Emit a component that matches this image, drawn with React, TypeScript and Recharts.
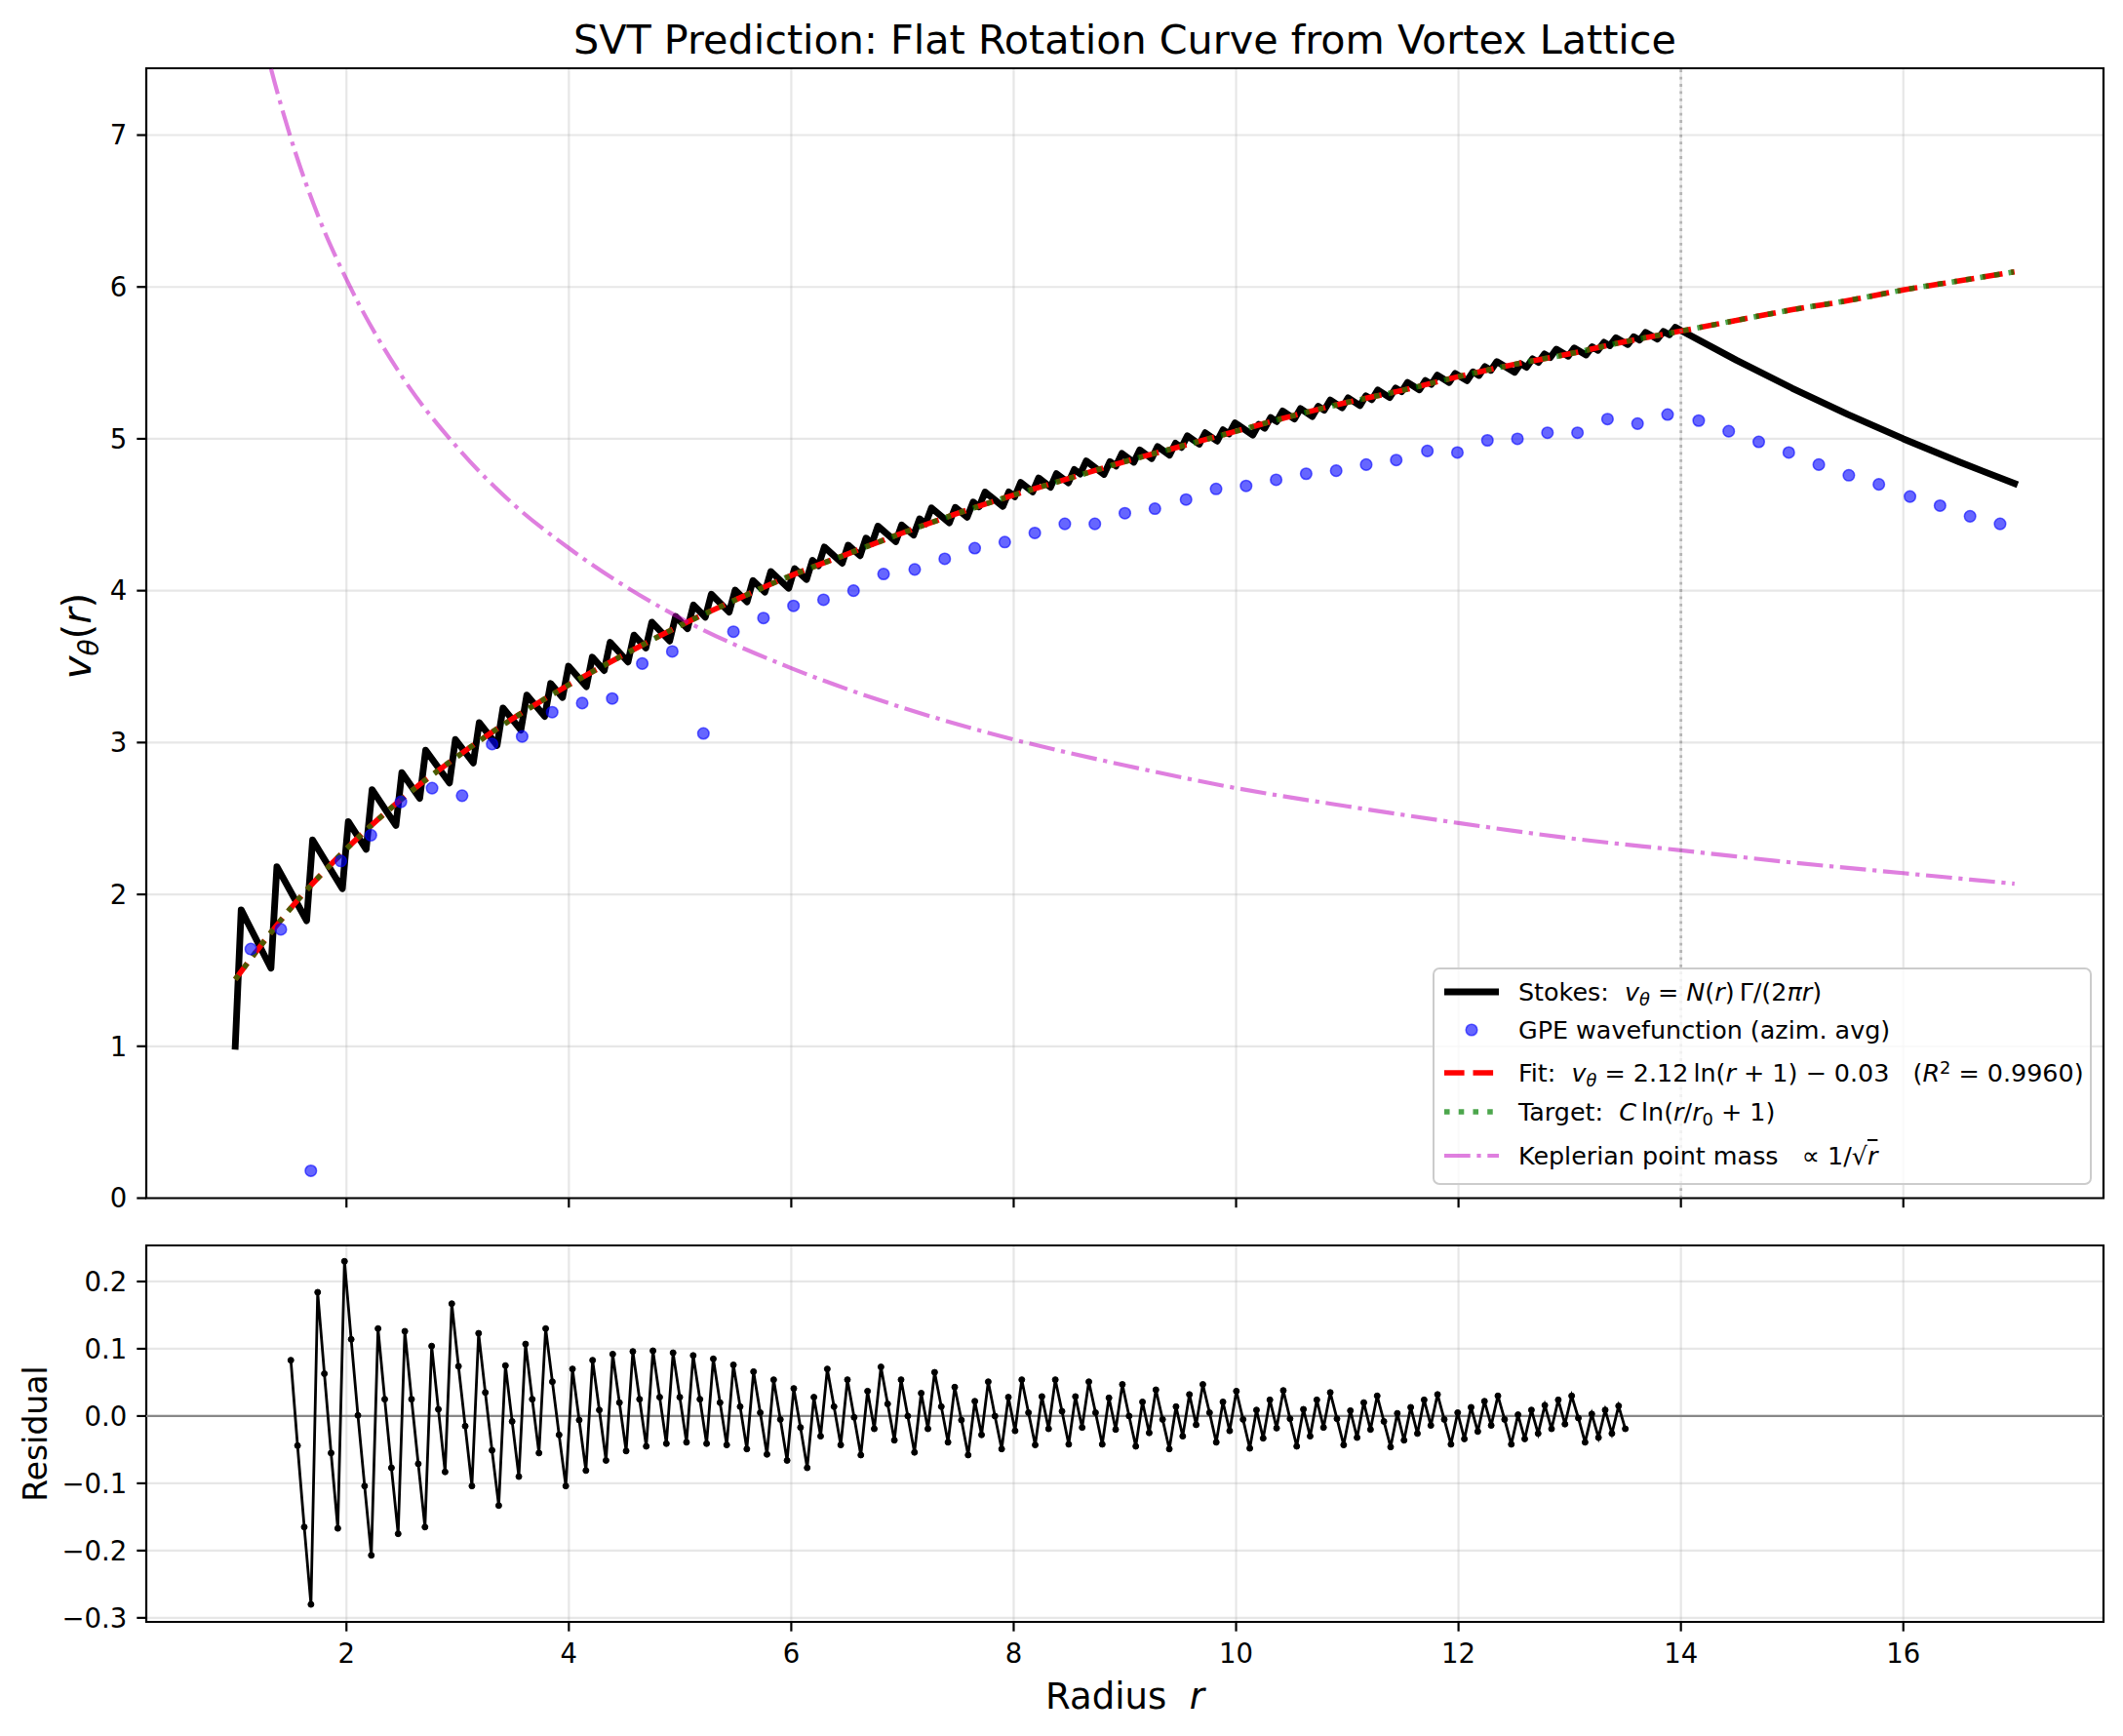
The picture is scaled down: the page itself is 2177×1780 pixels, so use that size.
import type { ReactNode } from "react";
import {
  CartesianGrid,
  Line,
  LineChart,
  ReferenceArea,
  ReferenceLine,
  XAxis,
  YAxis,
} from "recharts";

const FONT = "'DejaVu Sans', 'Liberation Sans', sans-serif";

// Stokes curve vertices [r, v]: every vortex shell crossed adds one jump
const stokesVertices: [number, number][] = [
  [1.0, 1.0], [1.0535, 1.8984], [1.3211, 1.5139], [1.3746, 2.1825],
  [1.6421, 1.8269], [1.6957, 2.3589], [1.9632, 2.0375], [2.0167, 2.4793],
  [2.1773, 2.2964], [2.2308, 2.6896], [2.4448, 2.4542], [2.4983, 2.8019],
  [2.6589, 2.6327], [2.7124, 2.9494], [2.9264, 2.7337], [2.9799, 3.0202],
  [3.1405, 2.8658], [3.194, 3.1309], [3.3545, 2.9811], [3.408, 3.2277],
  [3.5686, 3.0824], [3.6221, 3.313], [3.7826, 3.1724], [3.8361, 3.3889],
  [3.9432, 3.2968], [3.9967, 3.5029], [4.1572, 3.3677], [4.2107, 3.5624],
  [4.3177, 3.4741], [4.3712, 3.6603], [4.5318, 3.5306], [4.5853, 3.7075],
  [4.6923, 3.623], [4.7458, 3.7928], [4.9064, 3.6687], [4.9599, 3.8307],
  [5.0669, 3.7498], [5.1204, 3.9059], [5.2274, 3.826], [5.2809, 3.9766],
  [5.4415, 3.8592], [5.495, 4.0036], [5.602, 3.9272], [5.6555, 4.0668],
  [5.7625, 3.9913], [5.8161, 4.1265], [5.9766, 4.0157], [6.0301, 4.1459],
  [6.1371, 4.0736], [6.1906, 4.1999], [6.2441, 4.1639], [6.2977, 4.2873],
  [6.4582, 4.1807], [6.5117, 4.3], [6.6187, 4.2304], [6.6722, 4.3464],
  [6.7258, 4.3118], [6.7793, 4.4252], [6.9398, 4.3229], [6.9933, 4.4328],
  [7.1003, 4.366], [7.1538, 4.4732], [7.2074, 4.4399], [7.2609, 4.5449],
  [7.4214, 4.4466], [7.4749, 4.5486], [7.5819, 4.4844], [7.6355, 4.5838],
  [7.689, 4.552], [7.7425, 4.6496], [7.903, 4.5552], [7.9565, 4.6503],
  [8.01, 4.6192], [8.0635, 4.7126], [8.1706, 4.6508], [8.2241, 4.7421],
  [8.3311, 4.6812], [8.3846, 4.7707], [8.4916, 4.7105], [8.5452, 4.798],
  [8.5987, 4.7682], [8.6522, 4.8543], [8.8127, 4.7658], [8.8662, 4.8499],
  [8.9197, 4.8208], [8.9732, 4.9035], [9.0803, 4.8457], [9.1338, 4.9268],
  [9.2408, 4.8697], [9.2943, 4.9493], [9.4013, 4.8929], [9.4548, 4.971],
  [9.5084, 4.943], [9.5619, 5.0199], [9.6689, 4.9644], [9.7224, 5.0399],
  [9.8294, 4.985], [9.8829, 5.0592], [9.9365, 5.032], [9.99, 5.1051],
  [10.1505, 5.0244], [10.204, 5.096], [10.2575, 5.0695], [10.311, 5.1401],
  [10.3645, 5.1136], [10.4181, 5.1833], [10.5251, 5.1306], [10.5786, 5.1992],
  [10.6856, 5.1471], [10.7391, 5.2146], [10.7926, 5.1887], [10.8462, 5.2553],
  [10.9532, 5.204], [11.0067, 5.2695], [11.1137, 5.2188], [11.1672, 5.2833],
  [11.2207, 5.2581], [11.2742, 5.3219], [11.3813, 5.2718], [11.4348, 5.3346],
  [11.4883, 5.3098], [11.5418, 5.3718], [11.6488, 5.3224], [11.7023, 5.3836],
  [11.7559, 5.359], [11.8094, 5.4194], [11.9164, 5.3708], [11.9699, 5.4303],
  [12.0769, 5.3822], [12.1304, 5.4409], [12.1839, 5.417], [12.2375, 5.475],
  [12.291, 5.4512], [12.3445, 5.5085], [12.505, 5.4378], [12.5585, 5.4943],
  [12.612, 5.471], [12.6656, 5.5268], [12.7191, 5.5035], [12.7726, 5.5588],
  [12.8261, 5.5356], [12.8796, 5.5902], [12.9866, 5.5442], [13.0401, 5.5981],
  [13.1472, 5.5525], [13.2007, 5.6058], [13.2542, 5.5831], [13.3077, 5.6358],
  [13.3612, 5.6133], [13.4147, 5.6654], [13.5217, 5.6206], [13.5753, 5.6721],
  [13.6288, 5.6498], [13.6823, 5.7008], [13.7893, 5.6565], [13.8428, 5.7069],
  [13.8963, 5.685], [13.9498, 5.7348], [14.0034, 5.7129], [14.5, 5.5172],
  [15.0, 5.3333], [15.5, 5.1613], [16.0, 5.0], [16.5, 4.8485], [17.0, 4.7059],
];

// GPE wavefunction, azimuthally averaged
const gpeR = [
  1.14, 1.41, 1.68, 1.95, 2.22, 2.49, 2.77, 3.04, 3.31, 3.58, 3.85, 4.12,
  4.39, 4.66, 4.93, 5.21, 5.48, 5.75, 6.02, 6.29, 6.56, 6.83, 7.11, 7.38,
  7.65, 7.92, 8.19, 8.46, 8.73, 9.0, 9.27, 9.55, 9.82, 10.09, 10.36, 10.63,
  10.9, 11.17, 11.44, 11.72, 11.99, 12.26, 12.53, 12.8, 13.07, 13.34, 13.61,
  13.88, 14.16, 14.43, 14.7, 14.97, 15.24, 15.51, 15.78, 16.06, 16.33, 16.6,
  16.87,
];
const gpeV = [
  1.64, 1.77, 0.18, 2.22, 2.39, 2.61, 2.7, 2.65, 2.99, 3.04, 3.2, 3.26, 3.29,
  3.52, 3.6, 3.06, 3.73, 3.82, 3.9, 3.94, 4.0, 4.11, 4.14, 4.21, 4.28, 4.32,
  4.38, 4.44, 4.44, 4.51, 4.54, 4.6, 4.67, 4.69, 4.73, 4.77, 4.79, 4.83, 4.86,
  4.92, 4.91, 4.99, 5.0, 5.04, 5.04, 5.13, 5.1, 5.16, 5.12, 5.05, 4.98, 4.91,
  4.83, 4.76, 4.7, 4.62, 4.56, 4.49, 4.44,
];

// log fit and target curve
const fitR = [
  1, 1.5, 2, 2.5, 3, 3.5, 4, 4.5, 5, 5.5, 6, 6.5, 7, 7.5, 8, 8.5, 9, 9.5, 10,
  10.5, 11, 11.5, 12, 12.5, 13, 13.5, 14, 14.5, 15, 15.5, 16, 16.5, 17,
];
const fitV = [
  1.44, 1.91, 2.3, 2.63, 2.91, 3.16, 3.38, 3.58, 3.77, 3.94, 4.1, 4.24, 4.38,
  4.51, 4.63, 4.74, 4.85, 4.95, 5.05, 5.15, 5.24, 5.32, 5.41, 5.49, 5.56, 5.64,
  5.71, 5.78, 5.85, 5.91, 5.98, 6.04, 6.1,
];
const targetV = [
  1.44, 1.91, 2.3, 2.63, 2.91, 3.16, 3.38, 3.58, 3.77, 3.94, 4.1, 4.24, 4.38,
  4.51, 4.63, 4.74, 4.85, 4.95, 5.05, 5.15, 5.24, 5.32, 5.41, 5.49, 5.56, 5.64,
  5.71, 5.78, 5.85, 5.91, 5.98, 6.04, 6.1,
];

// Keplerian point mass
const keplerR = [1, 1.25, 1.5, 1.75, 2, 2.5, 3, 3.5, 4, 5, 6, 7, 8, 9, 10, 11, 12, 13, 14, 15, 16, 17];
const keplerV = [
  8.55, 7.65, 6.98, 6.46, 6.05, 5.41, 4.94, 4.57, 4.28, 3.82, 3.49, 3.23, 3.02,
  2.85, 2.7, 2.58, 2.47, 2.37, 2.29, 2.21, 2.14, 2.07,
];

// residual (Stokes - fit), evenly sampled from r = 1.5 to r = 13.5
const RESIDUAL_START = 1.5;
const RESIDUAL_END = 13.5;
const residuals = [
  0.083, -0.044, -0.165, -0.28, 0.184, 0.063, -0.055, -0.167, 0.23, 0.114,
  0.001, -0.104, -0.207, 0.13, 0.025, -0.077, -0.175, 0.126, 0.025, -0.071,
  -0.165, 0.104, 0.01, -0.083, 0.167, 0.074, -0.015, -0.104, 0.123, 0.035,
  -0.051, -0.133, 0.075, -0.008, -0.09, 0.107, 0.025, -0.055, 0.13, 0.051,
  -0.028, -0.104, 0.07, -0.006, -0.081, 0.083, 0.009, -0.066, 0.092, 0.02,
  -0.052, 0.096, 0.025, -0.045, 0.097, 0.028, -0.041, 0.094, 0.028, -0.039,
  0.09, 0.025, -0.041, 0.085, 0.02, -0.043, 0.076, 0.014, -0.049, 0.066,
  0.005, -0.057, 0.054, -0.005, -0.066, 0.041, -0.017, -0.077, 0.028, -0.03,
  0.07, 0.014, -0.043, 0.054, -0.002, -0.058, 0.037, -0.019, 0.073, 0.018,
  -0.036, 0.054, 0.0, -0.054, 0.034, -0.019, 0.065, 0.014, -0.039, 0.043,
  -0.006, -0.058, 0.022, -0.028, 0.051, 0.0, -0.049, 0.028, -0.022, 0.054,
  0.005, -0.043, 0.029, -0.019, 0.054, 0.007, -0.042, 0.029, -0.017, 0.051,
  0.005, -0.042, 0.027, -0.02, 0.047, 0.0, -0.045, 0.021, -0.025, 0.039,
  -0.005, -0.049, 0.014, -0.03, 0.032, -0.013, 0.047, 0.005, -0.039, 0.021,
  -0.022, 0.037, -0.005, -0.048, 0.009, -0.033, 0.024, -0.018, 0.038, -0.004,
  -0.045, 0.01, -0.03, 0.024, -0.017, 0.035, -0.004, -0.043, 0.008, -0.032,
  0.02, -0.02, 0.03, -0.008, -0.046, 0.004, -0.036, 0.013, -0.026, 0.024,
  -0.014, 0.032, -0.005, -0.042, 0.005, -0.034, 0.013, -0.023, 0.022, -0.014,
  0.03, -0.005, -0.042, 0.002, -0.034, 0.009, -0.026, 0.016, -0.019, 0.024,
  -0.012, 0.03, -0.003, -0.039, 0.003, -0.032, 0.009, -0.026, 0.015, -0.019,
];

const radiusTicks = [2, 4, 6, 8, 10, 12, 14, 16];
const velocityTicks = [0, 1, 2, 3, 4, 5, 6, 7];
const residualTicks = [-0.3, -0.2, -0.1, 0, 0.1, 0.2];
const LATTICE_EDGE = 14;

const X_DOMAIN: [number, number] = [0.2, 17.8];
const V_DOMAIN: [number, number] = [0, 7.44];
const RES_DOMAIN: [number, number] = [-0.306, 0.2536];

const stokesData = stokesVertices.map(([r, v]) => ({ r, v }));
const gpeData = gpeR.map((r, i) => ({ r, v: gpeV[i] }));
const fitData = fitR.map((r, i) => ({ r, v: fitV[i] }));
const targetData = fitR.map((r, i) => ({ r, v: targetV[i] }));
const keplerData = keplerR.map((r, i) => ({ r, v: keplerV[i] }));
const residualData = residuals.map((v, i) => ({
  r: RESIDUAL_START + (i * (RESIDUAL_END - RESIDUAL_START)) / (residuals.length - 1),
  v,
}));

const tickStyle = { fontSize: 27.5, fill: "#000", fontFamily: FONT };
const tickLineStyle = { stroke: "#000", strokeWidth: 2.2 };
const gridProps = { stroke: "#b0b0b0", strokeOpacity: 0.3, strokeWidth: 2.2 };

const formatResidual = (v: number) =>
  (v < -1e-9 ? "\u2212" : "") + Math.abs(v).toFixed(1);

const I = ({ children }: { children: ReactNode }) => (
  <span style={{ fontStyle: "italic" }}>{children}</span>
);
const Sub = ({ children }: { children: ReactNode }) => (
  <span style={{ fontSize: "0.7em", position: "relative", top: "0.3em" }}>{children}</span>
);
const Sup = ({ children }: { children: ReactNode }) => (
  <span style={{ fontSize: "0.7em", position: "relative", top: "-0.45em" }}>{children}</span>
);

const legendRows: { key: string; cy: number; handle: ReactNode; label: ReactNode }[] = [
  {
    key: "stokes",
    cy: 23,
    handle: <line x1={2} x2={58} y1={20} y2={20} stroke="#000" strokeWidth={6.9} />,
    label: (
      <>
        {"Stokes:  "}
        <I>v</I>
        <Sub>
          <I>θ</I>
        </Sub>
        {" = "}
        <I>N</I>(<I>r</I>){"\u2009"}Γ/(2<I>π</I>
        <I>r</I>)
      </>
    ),
  },
  {
    key: "gpe",
    cy: 62,
    handle: (
      <circle cx={30} cy={20} r={5.8} fill="#0000ff" fillOpacity={0.6} stroke="#0000ff" strokeOpacity={0.6} strokeWidth={1.5} />
    ),
    label: <>GPE wavefunction (azim. avg)</>,
  },
  {
    key: "fit",
    cy: 106,
    handle: (
      <line x1={2} x2={58} y1={20} y2={20} stroke="#ff0000" strokeWidth={5.56} strokeDasharray="20.6 8.9" />
    ),
    label: (
      <>
        {"Fit:  "}
        <I>v</I>
        <Sub>
          <I>θ</I>
        </Sub>
        {" = 2.12\u2009ln("}
        <I>r</I>
        {" + 1) \u2212 0.03   ("}
        <I>R</I>
        <Sup>2</Sup>
        {" = 0.9960)"}
      </>
    ),
  },
  {
    key: "target",
    cy: 146,
    handle: (
      <line x1={2} x2={58} y1={20} y2={20} stroke="#008000" strokeOpacity={0.7} strokeWidth={5.56} strokeDasharray="5.56 9.17" />
    ),
    label: (
      <>
        {"Target:  "}
        <I>C</I>
        {"\u2009ln("}
        <I>r</I>/<I>r</I>
        <Sub>0</Sub>
        {" + 1)"}
      </>
    ),
  },
  {
    key: "kepler",
    cy: 191,
    handle: (
      <line x1={2} x2={58} y1={20} y2={20} stroke="#bf00bf" strokeOpacity={0.5} strokeWidth={4.17} strokeDasharray="26.7 6.7 4.2 6.7" />
    ),
    label: (
      <>
        {"Keplerian point mass   \u221d 1/\u221a"}
        <span style={{ textDecoration: "overline", textDecorationThickness: 2 }}>
          <I>r</I>
        </span>
      </>
    ),
  },
];

const LegendBox = () => (
  <div
    style={{
      position: "absolute",
      left: 1469,
      top: 992,
      width: 676,
      height: 223,
      boxSizing: "border-box",
      border: "2.2px solid #cccccc",
      borderRadius: 7,
      background: "rgba(255,255,255,0.8)",
      fontFamily: FONT,
    }}
  >
    {legendRows.map((row) => (
      <div key={row.key} style={{ position: "absolute", left: 0, top: row.cy - 20, height: 40, width: "100%" }}>
        <svg width={60} height={40} style={{ position: "absolute", left: 8, top: 0 }}>
          {row.handle}
        </svg>
        <div
          style={{
            position: "absolute",
            left: 86,
            top: 0,
            height: 40,
            lineHeight: "40px",
            fontSize: 25.4,
            whiteSpace: "pre",
            color: "#000",
          }}
        >
          {row.label}
        </div>
      </div>
    ))}
  </div>
);

export default function App() {
  return (
    <div
      style={{
        position: "absolute",
        left: 0,
        top: 0,
        width: 2177,
        height: 1780,
        background: "#fff",
        fontFamily: FONT,
        overflow: "hidden",
      }}
    >
      {/* rotation curve panel */}
      <div style={{ position: "absolute", left: 0, top: 0 }}>
        <LineChart width={2177} height={1260} margin={{ top: 70, right: 20, bottom: 20, left: 0 }}>
          <CartesianGrid {...gridProps} />
          <XAxis
            type="number"
            dataKey="r"
            domain={X_DOMAIN}
            ticks={radiusTicks}
            interval={0}
            allowDataOverflow
            height={11.5}
            axisLine={false}
            tickLine={tickLineStyle}
            tickSize={9.7}
            tickFormatter={() => ""}
          />
          <YAxis
            type="number"
            domain={V_DOMAIN}
            ticks={velocityTicks}
            interval={0}
            allowDataOverflow
            width={150}
            axisLine={false}
            tickLine={tickLineStyle}
            tickSize={9.7}
            tickMargin={10}
            tick={tickStyle}
          />
          <Line
            data={stokesData}
            dataKey="v"
            type="linear"
            stroke="#000"
            strokeWidth={6.9}
            strokeLinejoin="round"
            strokeLinecap="square"
            dot={false}
            isAnimationActive={false}
          />
          <Line
            data={gpeData}
            dataKey="v"
            stroke="none"
            dot={{ r: 5.8, fill: "#0000ff", fillOpacity: 0.6, stroke: "#0000ff", strokeOpacity: 0.6, strokeWidth: 1.5 }}
            isAnimationActive={false}
          />
          <Line
            data={fitData}
            dataKey="v"
            type="monotone"
            stroke="#ff0000"
            strokeWidth={5.56}
            strokeDasharray="20.6 8.9"
            dot={false}
            isAnimationActive={false}
          />
          <Line
            data={targetData}
            dataKey="v"
            type="monotone"
            stroke="#008000"
            strokeOpacity={0.7}
            strokeWidth={5.56}
            strokeDasharray="5.56 9.17"
            dot={false}
            isAnimationActive={false}
          />
          <Line
            data={keplerData}
            dataKey="v"
            type="monotone"
            stroke="#bf00bf"
            strokeOpacity={0.5}
            strokeWidth={4.17}
            strokeDasharray="26.7 6.7 4.2 6.7"
            dot={false}
            isAnimationActive={false}
          />
          <ReferenceLine
            x={LATTICE_EDGE}
            stroke="#808080"
            strokeOpacity={0.5}
            strokeWidth={2.8}
            strokeDasharray="2.8 4.6"
          />
          <ReferenceArea
            x1={X_DOMAIN[0]}
            x2={X_DOMAIN[1]}
            y1={V_DOMAIN[0]}
            y2={V_DOMAIN[1]}
            fill="none"
            stroke="#000"
            strokeWidth={2.2}
            ifOverflow="visible"
          />
        </LineChart>
      </div>

      {/* residual panel */}
      <div style={{ position: "absolute", left: 0, top: 1240 }}>
        <LineChart width={2177} height={540} margin={{ top: 37, right: 20, bottom: 0, left: 0 }}>
          <CartesianGrid {...gridProps} />
          <XAxis
            type="number"
            dataKey="r"
            domain={X_DOMAIN}
            ticks={radiusTicks}
            interval={0}
            allowDataOverflow
            height={117}
            axisLine={false}
            tickLine={tickLineStyle}
            tickSize={9.7}
            tickMargin={13}
            tick={tickStyle}
          />
          <YAxis
            type="number"
            domain={RES_DOMAIN}
            ticks={residualTicks}
            interval={0}
            allowDataOverflow
            width={150}
            axisLine={false}
            tickLine={tickLineStyle}
            tickSize={9.7}
            tickMargin={10}
            tick={tickStyle}
            tickFormatter={formatResidual}
          />
          <ReferenceLine y={0} stroke="#888888" strokeWidth={2.2} />
          <Line
            data={residualData}
            dataKey="v"
            type="linear"
            stroke="#000"
            strokeWidth={2.8}
            dot={{ r: 3, fill: "#000", stroke: "#000", strokeWidth: 1 }}
            isAnimationActive={false}
          />
          <ReferenceArea
            x1={X_DOMAIN[0]}
            x2={X_DOMAIN[1]}
            y1={RES_DOMAIN[0]}
            y2={RES_DOMAIN[1]}
            fill="none"
            stroke="#000"
            strokeWidth={2.2}
            ifOverflow="visible"
          />
        </LineChart>
      </div>

      {/* title and axis labels */}
      <svg
        width={2177}
        height={1780}
        style={{ position: "absolute", left: 0, top: 0, pointerEvents: "none" }}
        fontFamily={FONT}
      >
        <text x={1153.5} y={55} textAnchor="middle" fontSize={41.3} fill="#000">
          SVT Prediction: Flat Rotation Curve from Vortex Lattice
        </text>
        <text x={1153.5} y={1752} textAnchor="middle" fontSize={37} fill="#000" xmlSpace="preserve">
          {"Radius  "}
          <tspan fontStyle="italic">r</tspan>
        </text>
        <text transform="translate(93, 652) rotate(-90)" textAnchor="middle" fontSize={40} fill="#000">
          <tspan fontStyle="italic">v</tspan>
          <tspan fontStyle="italic" fontSize={28} dy={8}>
            θ
          </tspan>
          <tspan dy={-8}>(</tspan>
          <tspan fontStyle="italic">r</tspan>
          <tspan>)</tspan>
        </text>
        <text transform="translate(48, 1470) rotate(-90)" textAnchor="middle" fontSize={33} fill="#000">
          Residual
        </text>
      </svg>

      <LegendBox />
    </div>
  );
}
